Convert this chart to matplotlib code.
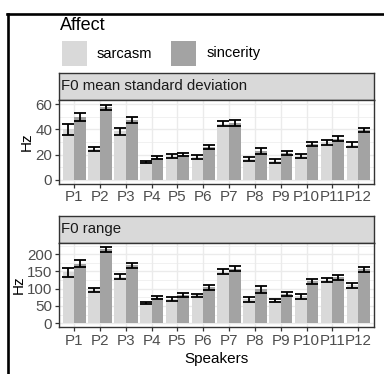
import numpy as np
import matplotlib
matplotlib.use("Agg")
import matplotlib.pyplot as plt
from matplotlib.patches import Rectangle
from matplotlib.lines import Line2D

plt.rcParams['font.family'] = ['Liberation Sans', 'DejaVu Sans']

speakers = ['P1', 'P2', 'P3', 'P4', 'P5', 'P6', 'P7', 'P8', 'P9', 'P10', 'P11', 'P12']
affects = ['sarcasm', 'sincerity']

# F0 mean standard deviation (Hz)
sd_sarc = [40.0, 24.1, 38.4, 13.8, 18.8, 18.0, 44.5, 16.4, 14.8, 18.8, 29.7, 27.8]
sd_sarc_err = [4.2, 1.6, 2.8, 0.8, 1.6, 1.4, 2.0, 1.7, 1.3, 1.6, 1.9, 1.9]
sd_sinc = [49.8, 57.7, 47.4, 17.5, 19.9, 26.0, 45.3, 23.0, 21.2, 28.6, 32.6, 39.7]
sd_sinc_err = [3.4, 2.0, 2.6, 1.0, 1.2, 1.9, 2.4, 2.2, 1.6, 1.6, 2.1, 1.6]

# F0 range (Hz)
rng_sarc = [147.8, 95.7, 134.3, 59.0, 71.5, 81.2, 148.8, 69.6, 64.7, 78.3, 124.6, 110.0]
rng_sarc_err = [13.0, 5.8, 7.0, 2.5, 5.8, 4.8, 7.0, 7.0, 4.3, 6.8, 6.3, 7.2]
rng_sinc = [173.0, 214.5, 168.0, 74.4, 81.2, 104.3, 158.5, 98.6, 84.0, 121.7, 133.3, 156.5]
rng_sinc_err = [9.7, 7.0, 7.7, 3.0, 6.0, 7.7, 7.7, 10.6, 6.3, 7.2, 7.7, 7.2]

fill = {'sarcasm': '#D9D9D9', 'sincerity': '#A3A3A3'}

W, H = 384, 374
fig = plt.figure(figsize=(W / 100, H / 100), dpi=100)


def box(x0, y0, x1, y1):
    # pixel box (top-left origin) -> figure rect
    return [x0 / W, 1 - y1 / H, (x1 - x0) / W, (y1 - y0) / H]


px_left, px_right = 58.8, 373.6


def panel(top, bottom, strip_top, title, sarc, sarc_err, sinc, sinc_err, ylim, yticks, minor):
    st = fig.add_axes(box(px_left, strip_top, px_right, top))
    st.set_facecolor('#D9D9D9')
    st.set_xticks([])
    st.set_yticks([])
    for s in st.spines.values():
        s.set_color('#333333')
        s.set_linewidth(1.0)
    st.text(0.008, 0.5, title, transform=st.transAxes, ha='left', va='center',
            fontsize=10.8, color='#1A1A1A')

    ax = fig.add_axes(box(px_left, top, px_right, bottom))
    x = np.arange(1, len(speakers) + 1)
    for vals, errs, off, aff in [(sarc, sarc_err, -0.225, 'sarcasm'),
                                 (sinc, sinc_err, 0.225, 'sincerity')]:
        ax.bar(x + off, vals, width=0.45, color=fill[aff], zorder=2)
        ax.errorbar(x + off, vals, yerr=errs, fmt='none', ecolor='black',
                    elinewidth=1.3, capsize=4.2, capthick=1.3, zorder=3)
    ax.set_xlim(0.4, len(speakers) + 0.6)
    ax.set_ylim(*ylim)
    ax.set_xticks(x)
    ax.set_xticklabels(speakers)
    ax.set_yticks(yticks)
    ax.set_yticks(minor, minor=True)
    ax.tick_params(axis='both', which='major', length=2.7, width=0.9, color='#333333',
                   labelsize=10.9, labelcolor='#4D4D4D', pad=2)
    ax.tick_params(axis='y', which='minor', length=0)
    ax.grid(True, which='major', color='#EBEBEB', linewidth=1.0, zorder=0)
    ax.grid(True, which='minor', axis='y', color='#EBEBEB', linewidth=0.5, zorder=0)
    ax.set_axisbelow(True)
    for s in ax.spines.values():
        s.set_color('#333333')
        s.set_linewidth(1.0)
    ax.set_ylabel('Hz', fontsize=11, labelpad=1)
    return ax


ax1 = panel(100, 183.5, 72.5, 'F0 mean standard deviation',
            sd_sarc, sd_sarc_err, sd_sinc, sd_sinc_err,
            (-3.0, 63.3), [0, 20, 40, 60], [10, 30, 50])
ax2 = panel(243, 327, 215.5, 'F0 range',
            rng_sarc, rng_sarc_err, rng_sinc, rng_sinc_err,
            (-11.1, 232.6), [0, 50, 100, 150, 200], [25, 75, 125, 175, 225])
ax2.set_xlabel('Speakers', fontsize=11, labelpad=3)

# legend
fig.text(60 / W, 1 - 25 / H, 'Affect', fontsize=13, ha='left', va='center')
for aff, kx, lx in [('sarcasm', 62, 97), ('sincerity', 171, 207)]:
    fig.patches.append(Rectangle((kx / W, 1 - 66 / H), 25 / W, 25 / H,
                                 transform=fig.transFigure, facecolor=fill[aff],
                                 edgecolor='none'))
    fig.text(lx / W, 1 - 53.5 / H, aff, fontsize=10.5, ha='left', va='center')

# frame lines of the screenshot
fig.add_artist(Line2D([7.5 / W, 7.5 / W], [0, 1 - 14 / H], color='black', lw=1.9,
                      transform=fig.transFigure))
fig.add_artist(Line2D([6.5 / W, 1], [1 - 14 / H, 1 - 14 / H], color='black', lw=1.9,
                      transform=fig.transFigure))

fig.savefig('out.png', dpi=100)
